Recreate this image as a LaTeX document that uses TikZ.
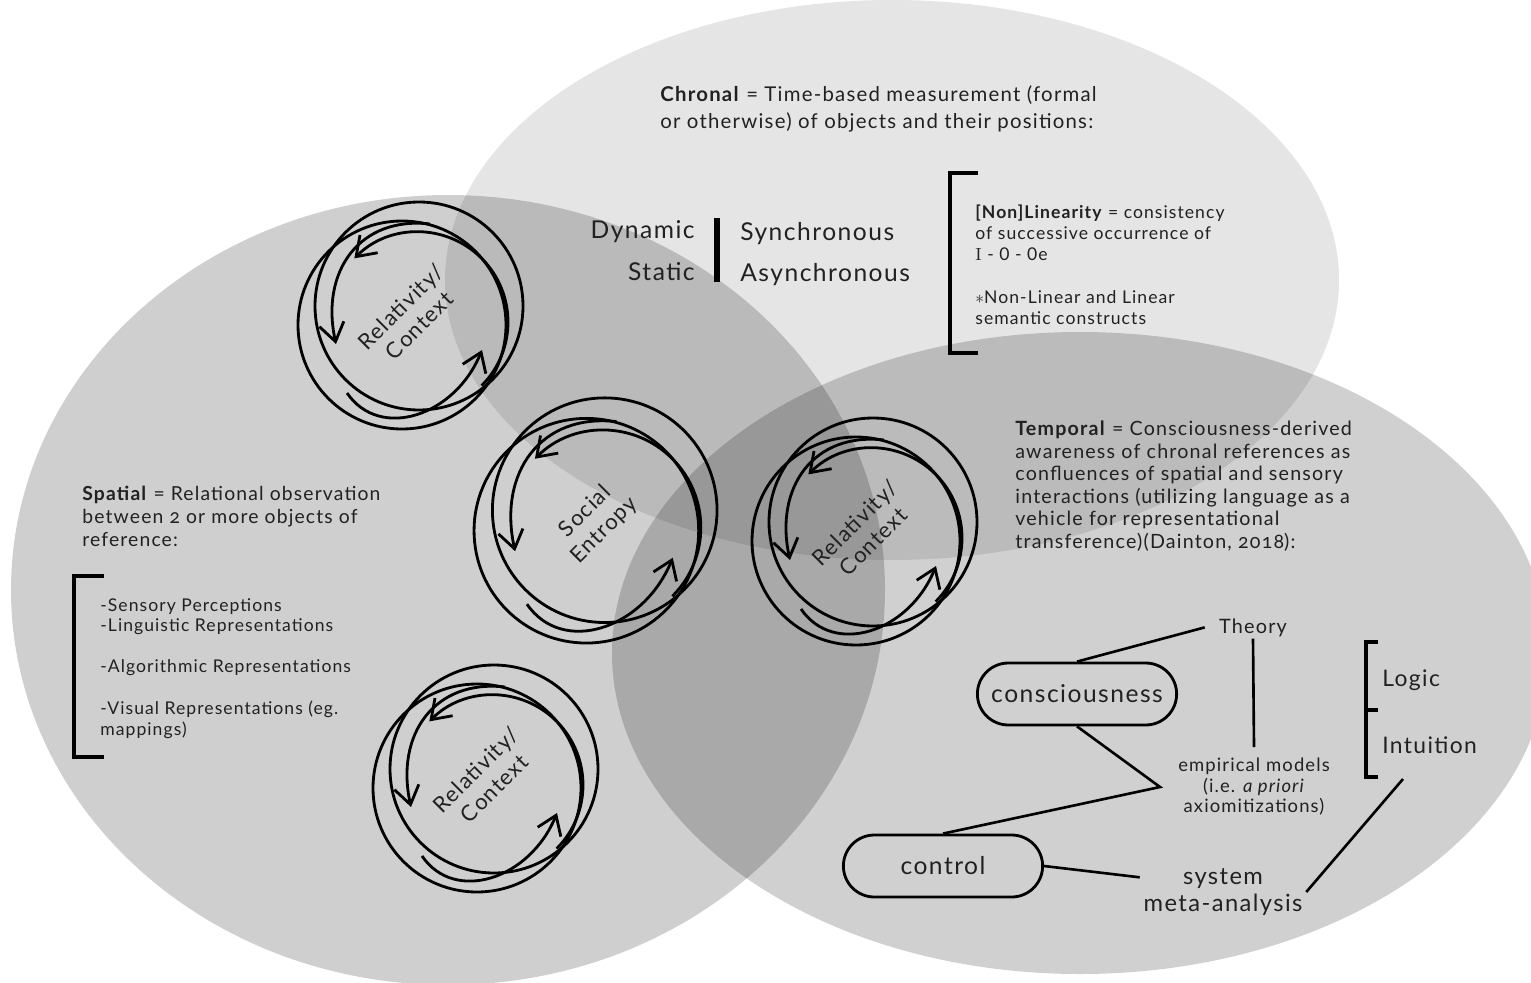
\documentclass[tikz,border=0pt]{standalone}
\usepackage{fontspec}
\setsansfont{Lato}[LetterSpace=6]
\renewcommand{\familydefault}{\sfdefault}
\usepackage{tikz}
\usetikzlibrary{positioning,arrows.meta,shapes.misc}
\definecolor{ink}{gray}{0.13}

\newcommand{\fsz}[2]{\fontsize{#1}{#2}\selectfont}
\newcommand{\osf}[1]{{\addfontfeatures{Numbers=OldStyle}#1}}

\begin{document}
\begin{tikzpicture}[x=0.02cm,y=0.02cm,text=ink,
    >={Straight Barb[length=3.6mm,width=5mm]},
    blob/.style={fill=black,fill opacity=#1},
    ring/.style={draw=black,line width=1.6pt},
    cyc/.style={ring,->},
    cyctext/.style={rotate=45,align=center,inner sep=0pt,font=\fsz{12.5}{15}},
    para/.style={anchor=north west,align=left,inner sep=0pt},
    brk/.style={line width=1.8pt},
    pill/.style={rounded rectangle,draw,line width=1.6pt,minimum width=4.22cm,minimum height=1.24cm,font=\fsz{14}{16}},
    word/.style={inner sep=0pt,font=\fsz{14}{16}},
    link/.style={line width=1.5pt}]
	\useasboundingbox (0,0) rectangle (1531,-983);
	\clip (0,0) rectangle (1531,-983);

	% the three sets
	\fill[blob=0.19]  (448,-590) ellipse[x radius=437,y radius=395];
	\fill[blob=0.10]  (892,-280) ellipse[x radius=447,y radius=280];
	\fill[blob=0.185] (1080,-653) ellipse[x radius=468,y radius=321];

	% cycles
	\foreach \nm/\cx/\cy/\sc/\txt in {relA/410/316/1/{Relativity/\\Context},
	    soc/595/521/1.08/{Social\\Entropy},
	    relB/864/532/1/{Relativity/\\Context},
	    relC/485/779/1/{Relativity/\\Context}}{
		\begin{scope}[shift={(\cx,-\cy)},scale=\sc]
			\draw[ring] (9,10) circle[radius=104];
			\draw[ring] (-8,-9) circle[radius=104];
			\draw[cyc] (20,92) .. controls (-50,100) and (-90,45) .. (-74,-28);
			\draw[cyc] (8,-6) ++(-45:90) arc[start angle=-45,end angle=135,radius=90];
			\draw[cyc] (-63,-77) .. controls (-30,-125) and (45,-100) .. (72,-34);
		\end{scope}
		\node[cyctext] (\nm) at (\cx,-\cy) {\txt};
	}

	% chronal
	\node[para,font=\fsz{11.6}{15.4}] (chronal) at (660,-85)
		{\textbf{Chronal} = Time-based measurement (formal\\or otherwise) of objects and their positions:};
	\node[word,anchor=base east] (dyn) at (695,-238) {Dynamic};
	\node[word,anchor=base east] (stat) at (695,-280) {Static};
	\node[word,anchor=base west] (sync) at (740,-240) {Synchronous};
	\node[word,anchor=base west] (async) at (740,-281) {Asynchronous};
	\draw[line width=3pt] (717,-218) -- (717,-282);

	\draw[brk] (978,-173) -| (950,-353) -- (978,-353);
	\node[para,font=\fsz{10}{11.7}] (nonlin) at (975,-205)
		{\textbf{[Non]Linearity} = consistency\\of successive occurrence of\\\textrm{I} - 0 - 0e\\[13pt]$\ast$Non-Linear and Linear\\semantic constructs};

	% spatial
	\node[para,font=\fsz{11}{13.1}] (spatial) at (82,-486)
		{\textbf{Spatial} = Relational observation\\between \osf{2} or more objects of\\reference:};
	\draw[brk] (104,-576) -| (74,-757) -- (104,-757);
	\node[para,font=\fsz{10}{11.7}] (senses) at (100,-598)
		{-Sensory Perceptions\\-Linguistic Representations\\[11.7pt]-Algorithmic Representations\\[12pt]-Visual Representations (eg.\\mappings)};

	% temporal
	\node[para,font=\fsz{11.2}{12.8}] (temporal) at (1015,-421)
		{\textbf{Temporal} = Consciousness-derived\\awareness of chronal references as\\confluences of spatial and sensory\\interactions (utilizing language as a\\vehicle for representational\\transference)(Dainton, \osf{2018}):};

	\node[word,inner xsep=8pt,inner ysep=1pt,anchor=base,font=\fsz{11.3}{13}] (theory) at (1253,-633) {Theory};
	\node[pill] (consc) at (1077,-694) {consciousness};
	\node[align=center,inner sep=6pt,anchor=north,font=\fsz{10.5}{11.7}] (empir) at (1254,-747)
		{empirical models\\(i.e. \textit{a priori}\\axiomitizations)};
	\node[pill] (ctrl) at (943,-866) {control};
	\node[align=center,inner sep=2pt,font=\fsz{13.5}{15.4}] (sysmeta) at (1223,-892) {system\\meta-analysis};
	\node[word,anchor=base west,font=\fsz{13}{15}] (logic) at (1382,-686) {Logic};
	\node[word,anchor=base west,font=\fsz{13}{15}] (intu) at (1382,-753) {Intuition};
	\draw[brk] (1378,-642) -| (1366,-777) -- (1378,-777);
	\draw[brk] (1366,-710) -- (1378,-710);

	\coordinate (zig) at (1160,-787);
	\coordinate (brkfoot) at (1403,-779);
	\draw[link] (consc.north) -- (theory.west);
	\draw[link] (theory.south) -- (empir.north);
	\draw[link] (consc.south) -- (zig) -- (ctrl.north);
	\draw[link] (ctrl.east) -- (sysmeta.170);
	\draw[link] (sysmeta.east) -- (brkfoot);
\end{tikzpicture}
\end{document}
